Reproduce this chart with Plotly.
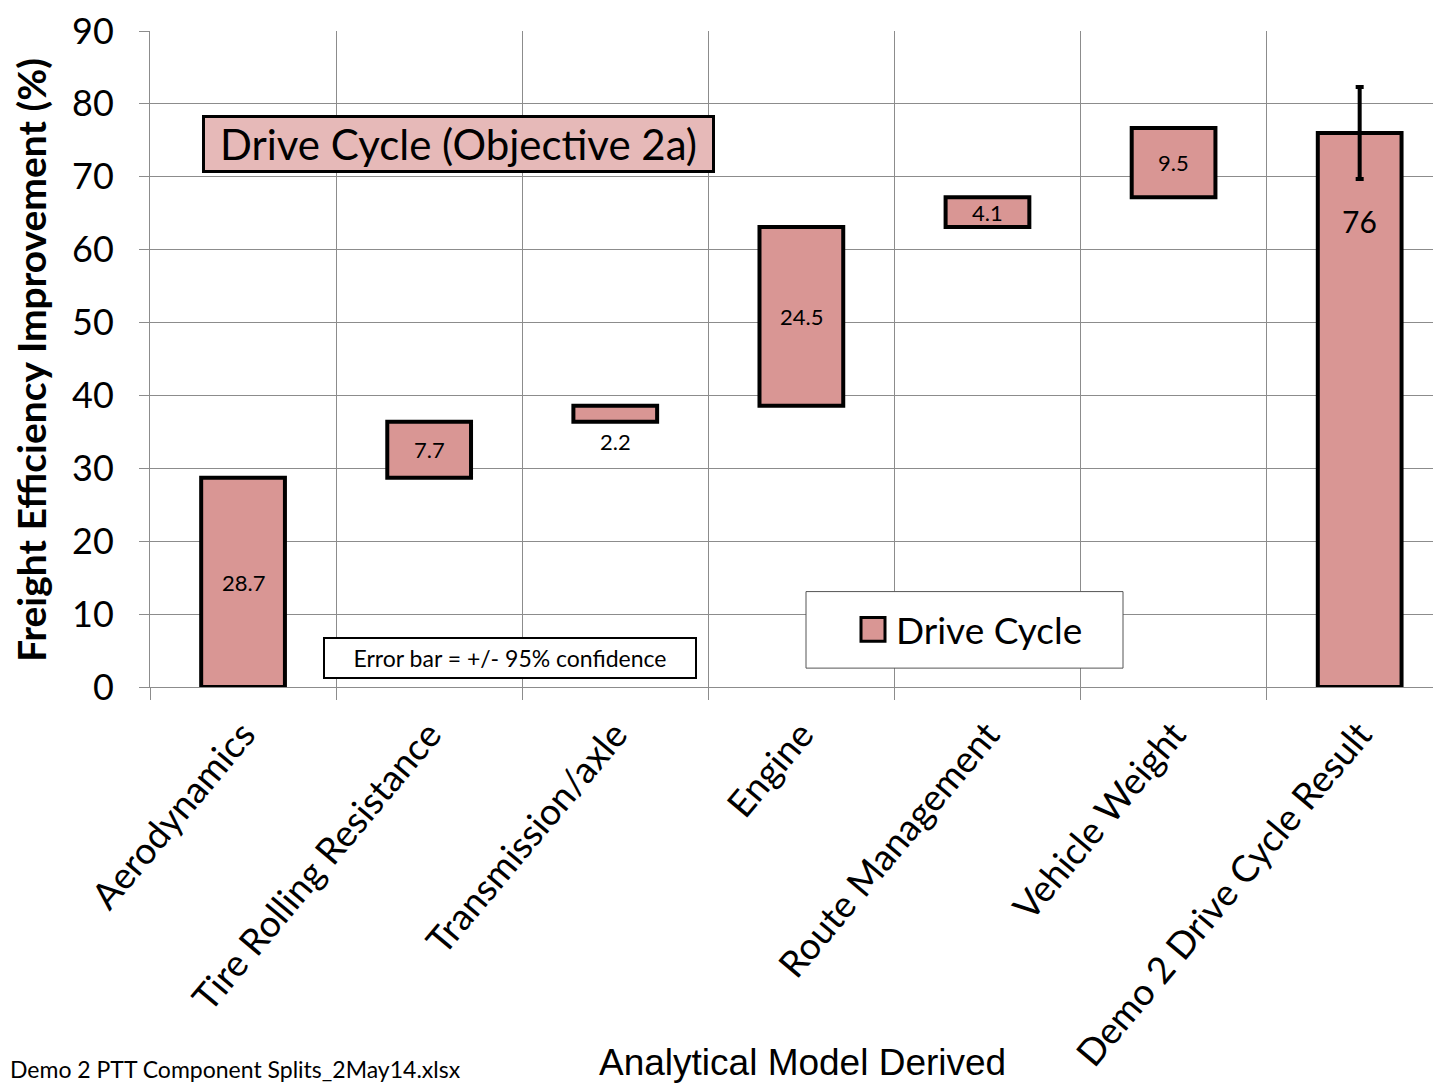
import plotly.graph_objects as go

# waterfall pieces
categories = ['Aerodynamics', 'Tire Rolling Resistance', 'Transmission/axle', 'Engine',
              'Route Management', 'Vehicle Weight', 'Demo 2 Drive Cycle Result']
step_values = [28.7, 7.7, 2.2, 24.5, 4.1, 9.5]
total_value = 76
total_error = 6.3

# running base for each step
bases = []
run = 0
for v in step_values:
    bases.append(run)
    run += v

fill = '#D99694'
font_main = 'Lato'

# page has an 8px body margin, so work in figure pixels = page pixels - 8
L, T, B, W = 142, 19, 679, 1291   # plot left/top/bottom/width in figure px
H = B - T


def px(x):
    return (x - 8 - L) / W


def py(y):
    return (B - (y - 8)) / H


fig = go.Figure()
fig.add_trace(go.Bar(
    x=categories[:6], y=step_values, base=bases, width=0.45,
    marker=dict(color=fill, line=dict(color='black', width=4)),
    name='Drive Cycle', showlegend=False, hoverinfo='skip'))
fig.add_trace(go.Bar(
    x=categories[6:], y=[total_value], width=0.45,
    marker=dict(color=fill, line=dict(color='black', width=4)),
    error_y=dict(type='data', array=[total_error], color='black', thickness=4, width=4),
    name='Drive Cycle', showlegend=False, hoverinfo='skip'))

# value labels
for cat, v, b in zip(categories[:6], step_values, bases):
    if v < 3:
        fig.add_annotation(x=cat, y=b, text=str(v), showarrow=False, yanchor='top', yshift=-4,
                           font=dict(size=22, color='black', family=font_main))
    else:
        fig.add_annotation(x=cat, y=b + v / 2, text=str(v), showarrow=False,
                           font=dict(size=22, color='black', family=font_main))
fig.add_annotation(x=categories[6], y=total_value - total_error, text=str(total_value),
                   showarrow=False, yanchor='top', yshift=-22,
                   font=dict(size=30, color='black', family=font_main))

# title box
fig.add_annotation(xref='paper', yref='paper', x=px(202), y=py(112),
                   xanchor='left', yanchor='top', text='Drive Cycle (Objective 2a)', showarrow=False,
                   font=dict(size=42, color='black', family=font_main),
                   bgcolor='#E6B9B8', bordercolor='black', borderwidth=3, width=505, height=50)

# error bar note
fig.add_annotation(xref='paper', yref='paper', x=px(323), y=py(637),
                   xanchor='left', yanchor='top', text='Error bar = +/- 95% confidence', showarrow=False,
                   font=dict(size=23, color='black', family=font_main),
                   bgcolor='white', bordercolor='black', borderwidth=2, width=368, height=36, yshift=0)

# legend drawn by hand (frame, swatch, label)
fig.add_shape(type='rect', xref='paper', yref='paper',
              x0=px(806), x1=px(1123), y0=py(668), y1=py(591),
              fillcolor='white', line=dict(color='#555555', width=1), layer='above')
fig.add_shape(type='rect', xref='paper', yref='paper',
              x0=px(861), x1=px(885), y0=py(641), y1=py(617),
              fillcolor=fill, line=dict(color='black', width=3), layer='above')
fig.add_annotation(xref='paper', yref='paper', x=px(894), y=py(629), xanchor='left', yanchor='middle',
                   text='Drive Cycle', showarrow=False,
                   font=dict(size=37, color='black', family=font_main))

# axis titles and source note
fig.add_annotation(xref='paper', yref='paper', x=px(31), y=py(358), xanchor='center', yanchor='middle',
                   text='<b>Freight Efficiency Improvement (%)</b>', textangle=-90, showarrow=False,
                   font=dict(size=39, color='black', family=font_main))
fig.add_annotation(xref='paper', yref='paper', x=px(802), y=py(1087),
                   yanchor='bottom', text='Analytical Model Derived', showarrow=False,
                   font=dict(size=37, color='black', family='Liberation Sans'))
fig.add_annotation(xref='paper', yref='paper', x=px(8), y=py(1087),
                   xanchor='left', yanchor='bottom', text='Demo 2 PTT Component Splits_2May14.xlsx',
                   showarrow=False, font=dict(size=23, color='black', family=font_main))

fig.update_layout(
    width=1433, height=1080,
    margin=dict(l=L, r=0, t=T, b=1080 - B),
    plot_bgcolor='white', paper_bgcolor='white',
    barmode='overlay', showlegend=False,
    xaxis=dict(categoryorder='array', categoryarray=categories, range=[-0.5, 6.437],
               tickson='boundaries', showgrid=True, gridcolor='#8c8c8c', gridwidth=1,
               ticks='outside', ticklen=12, tickcolor='#8c8c8c', tickangle=-50,
               ticklabelstandoff=10,
               showline=True, linecolor='#8c8c8c', linewidth=1,
               tickfont=dict(size=37, color='black', family=font_main)),
    yaxis=dict(range=[0, 90], dtick=10, showgrid=True, gridcolor='#8c8c8c', gridwidth=1,
               ticks='outside', ticklen=10, tickcolor='#8c8c8c', zeroline=False,
               ticklabelstandoff=18, ticklabeloverflow='allow',
               showline=True, linecolor='#8c8c8c', linewidth=1,
               tickfont=dict(size=36, color='black', family=font_main)),
)

fig.write_html('out.html')
